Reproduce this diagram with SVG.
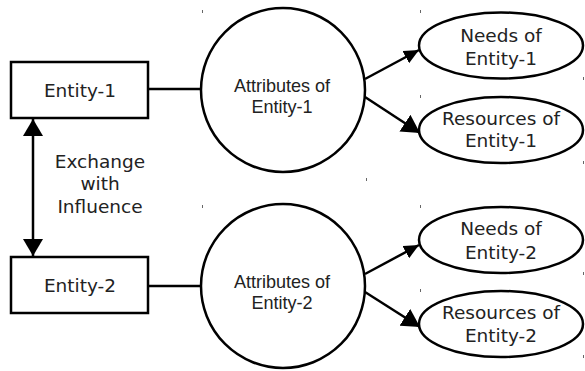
<svg xmlns="http://www.w3.org/2000/svg" width="585" height="371" viewBox="0 0 585 371">
  <style>
    .box { fill: #fff; stroke: #000; stroke-width: 2.5; }
    .link { fill: none; stroke: #000; stroke-width: 2.5; }
    .lbl { font-family: "DejaVu Sans", sans-serif; font-size: 18.5px; fill: #222; text-anchor: middle; }
    .lbl2 { font-family: "Liberation Sans", Arial, sans-serif; font-size: 19px; fill: #222; text-anchor: middle; }
    .tick { fill: #666; }
  </style>
  <defs>
    <!-- arrowheads sized in user units -->
    <marker id="headV" viewBox="0 0 17 20" refX="17" refY="10" markerWidth="17" markerHeight="20" markerUnits="userSpaceOnUse" orient="auto-start-reverse">
      <path d="M0,0 L17,10 L0,20 Z" fill="#000"/>
    </marker>
    <marker id="headS" viewBox="0 0 15 14" refX="15" refY="7" markerWidth="15" markerHeight="14" markerUnits="userSpaceOnUse" orient="auto">
      <path d="M0,0 L15,7 L0,14 Z" fill="#000"/>
    </marker>
    <marker id="headL" viewBox="0 0 18 20" refX="18" refY="10" markerWidth="18" markerHeight="20" markerUnits="userSpaceOnUse" orient="auto">
      <path d="M0,0 L18,10 L0,20 Z" fill="#000"/>
    </marker>
  </defs>
  <rect width="585" height="371" fill="#fff"/>

  <!-- small stray marks -->
  <g id="marks">
    <rect class="tick" x="202" y="10" width="1" height="3"/>
    <rect class="tick" x="420" y="10" width="1" height="3"/>
    <rect class="tick" x="583" y="77" width="1" height="3"/>
    <rect class="tick" x="420" y="95" width="1" height="3"/>
    <rect class="tick" x="583" y="161" width="1" height="3"/>
    <rect class="tick" x="366" y="178" width="1" height="3"/>
    <rect class="tick" x="202" y="205" width="1" height="3"/>
    <rect class="tick" x="420" y="205" width="1" height="3"/>
    <rect class="tick" x="583" y="272" width="1" height="3"/>
    <rect class="tick" x="420" y="289" width="1" height="3"/>
    <rect class="tick" x="583" y="355" width="1" height="3"/>
  </g>

  <g id="connectors">
    <line class="link" x1="148" y1="89" x2="201" y2="89"/>
    <line class="link" x1="148" y1="286" x2="201" y2="286"/>
    <line class="link" x1="33" y1="119" x2="33" y2="256" marker-start="url(#headV)" marker-end="url(#headV)"/>
    <line class="link" x1="365" y1="79" x2="419" y2="50" marker-end="url(#headS)"/>
    <line class="link" x1="365" y1="97" x2="420" y2="133" marker-end="url(#headL)"/>
    <line class="link" x1="365" y1="274" x2="419" y2="245" marker-end="url(#headS)"/>
    <line class="link" x1="365" y1="292" x2="420" y2="327" marker-end="url(#headL)"/>
  </g>

  <g id="entity1">
    <rect class="box" x="11" y="62" width="137" height="56"/>
    <text class="lbl" x="80" y="97">Entity-1</text>
  </g>
  <g id="entity2">
    <rect class="box" x="11" y="257" width="137" height="56"/>
    <text class="lbl" x="80" y="292">Entity-2</text>
  </g>

  <g id="exchange-label">
    <text class="lbl" x="100" y="168">Exchange</text>
    <text class="lbl" x="100" y="190">with</text>
    <text class="lbl" x="100" y="213">Influence</text>
  </g>

  <g id="attributes1">
    <circle class="box" cx="283" cy="90" r="82"/>
    <g transform="translate(282,0) scale(0.95,1)">
      <text class="lbl2" x="0" y="92">Attributes of</text>
      <text class="lbl2" x="0" y="113">Entity-1</text>
    </g>
  </g>
  <g id="attributes2">
    <circle class="box" cx="283" cy="286" r="82"/>
    <g transform="translate(282,0) scale(0.95,1)">
      <text class="lbl2" x="0" y="288">Attributes of</text>
      <text class="lbl2" x="0" y="309">Entity-2</text>
    </g>
  </g>

  <g id="needs1">
    <ellipse class="box" cx="501" cy="45.5" rx="82" ry="33"/>
    <text class="lbl" x="501" y="42">Needs of</text>
    <text class="lbl" x="501" y="65">Entity-1</text>
  </g>
  <g id="resources1">
    <ellipse class="box" cx="501" cy="130" rx="82" ry="33"/>
    <text class="lbl" x="501" y="125">Resources of</text>
    <text class="lbl" x="501" y="147">Entity-1</text>
  </g>
  <g id="needs2">
    <ellipse class="box" cx="501" cy="240" rx="82" ry="33"/>
    <text class="lbl" x="501" y="235">Needs of</text>
    <text class="lbl" x="501" y="259">Entity-2</text>
  </g>
  <g id="resources2">
    <ellipse class="box" cx="501" cy="324" rx="82" ry="33"/>
    <text class="lbl" x="501" y="319">Resources of</text>
    <text class="lbl" x="501" y="342">Entity-2</text>
  </g>
</svg>
